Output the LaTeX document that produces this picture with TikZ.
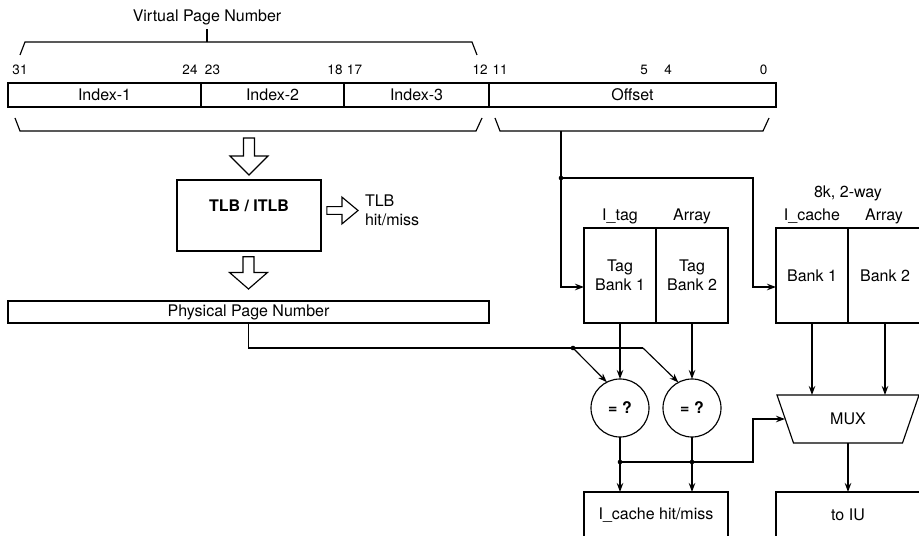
\documentclass[tikz,border=0pt]{standalone}
\usepackage{fontspec}
\setmainfont{TeX Gyre Heros}
\usetikzlibrary{arrows.meta}

\tikzset{
  field/.style={draw, minimum height=24bp},
  bank/.style={draw, minimum width=72bp, minimum height=95bp, align=center},
  outbox/.style={draw, minimum width=144bp, minimum height=46bp},
  cmp/.style={draw, circle, minimum size=58bp},
  bitno/.style={font=\fontsize{13.5bp}{16bp}\selectfont},
  hollow/.pic={\draw (0,0) -- (-19,-19) -- (-5.5,-19) -- (-5.5,-37) -- (5.5,-37) -- (5.5,-19) -- (19,-19) -- cycle;}
}

\begin{document}
\begin{tikzpicture}[x=1bp,y=-1bp,inner sep=0pt,outer sep=0pt,line width=1.15bp,
  font=\fontsize{16bp}{19bp}\selectfont, >={Stealth[length=9bp,width=6.5bp]}]
  \useasboundingbox (0,0) rectangle (919,536);
  % virtual address
  \node (vpn) at (207,17) {Virtual Page Number};
  \coordinate (vtick) at (207,42);
  \draw (20,55) -- (25,42) -- (472,42) -- (477,55);
  \draw (vtick) -- ([yshift=-4bp]vpn.south);
  \foreach \n/\x in {31/20,24/190,23/212.5,18/335,17/354.5,12/480,11/500,5/644,4/668,0/763.5}
    \node[bitno] (b\n) at (\x,70) {\n};
  \node[field, minimum width=193bp] (idx1) at (104.5,95) {Index-1};
  \node[field, minimum width=143bp] (idx2) at (272.5,95) {Index-2};
  \node[field, minimum width=145bp] (idx3) at (416.5,95) {Index-3};
  \node[field, minimum width=287bp] (offs) at (632.5,95) {Offset};
  \draw (15,118) -- (20,131) -- (476,131) -- (482,118);
  \draw (495,118) -- (500,131) -- (763,131) -- (769,118);
  % TLB
  \node[draw, minimum width=144bp, minimum height=71bp, text height=11bp, text depth=19bp] (tlb) at (249,215.5) {\bfseries TLB / ITLB};
  \node[anchor=west, align=left] (hm) at (365,210.5) {TLB\\hit/miss};
  \node[draw, minimum width=481bp, minimum height=22bp] (ppn) at (248.5,312) {Physical Page Number};
  \pic at ([yshift=5bp]tlb.north) {hollow};
  \pic[yscale=0.87] at ([yshift=12bp]ppn.north) {hollow};
  \pic[rotate=90, xscale=0.7, yscale=0.84] at ([xshift=-7bp]hm.west) {hollow};
  % tag and cache arrays
  \node (ltag) at (620,216) {I\_tag};
  \node (ltarr) at (692,216) {Array};
  \node (lsize) at (848,193) {8k, 2-way};
  \node (lcache) at (812,216) {I\_cache};
  \node (lcarr) at (884,216) {Array};
  \node[bank] (tb1) at (620,275.5) {Tag\\Bank 1};
  \node[bank] (tb2) at (692,275.5) {Tag\\Bank 2};
  \node[bank] (cb1) at (812,275.5) {Bank 1};
  \node[bank, minimum width=74bp] (cb2) at (885,275.5) {Bank 2};
  \coordinate (obr) at (561,131);
  \coordinate (split) at (561,178);
  \coordinate (cturn) at (753,178);
  \draw (obr) -- (split);
  \draw[->] (split) |- ([yshift=-11.5bp]tb1.west);
  \draw[->] (split) -- (cturn) |- ([yshift=-11.5bp]cb1.west);
  \fill (split) circle (2.3bp);
  % compare
  \node[cmp] (cmp1) at (620,408) {\bfseries = ?};
  \node[cmp] (cmp2) at (692,408) {\bfseries = ?};
  \draw[->] (tb1.south) -- (cmp1.north);
  \draw[->] (tb2.south) -- (cmp2.north);
  \coordinate (pdot) at (573,348);
  \coordinate (pbend) at (643,348);
  \draw (ppn.south) |- (pbend);
  \draw[->] (pdot) -- (cmp1.117);
  \draw[->] (pbend) -- (cmp2.118);
  \fill (pdot) circle (2.3bp);
  % outputs
  \node[outbox] (hit) at (656,515) {I\_cache hit/miss};
  \node[outbox] (iu) at (848,515) {to IU};
  \node[minimum width=142bp, minimum height=48bp] (mux) at (848,419) {MUX};
  \draw (mux.north west) -- (mux.north east) -- ([xshift=-16.5bp]mux.south east)
    -- ([xshift=16.5bp]mux.south west) -- cycle;
  \coordinate (h1) at (620,462);
  \coordinate (h2) at (692,462);
  \draw (cmp1.south) -- (h1);
  \draw (cmp2.south) -- (h2);
  \draw[->] (h1) -- (h1 |- hit.north);
  \draw[->] (h2) -- (h2 |- hit.north);
  \draw[->] (h1) -- (h2) -- (cturn |- h2) |- ([xshift=8bp]mux.west);
  \fill (h1) circle (2.3bp);
  \fill (h2) circle (2.3bp);
  \draw[->] (cb1.south) -- (cb1.south |- mux.north);
  \draw[->] (cb2.south) -- (cb2.south |- mux.north);
  \draw[->] ([xshift=0bp]mux.south) -- (iu.north);
\end{tikzpicture}
\end{document}
